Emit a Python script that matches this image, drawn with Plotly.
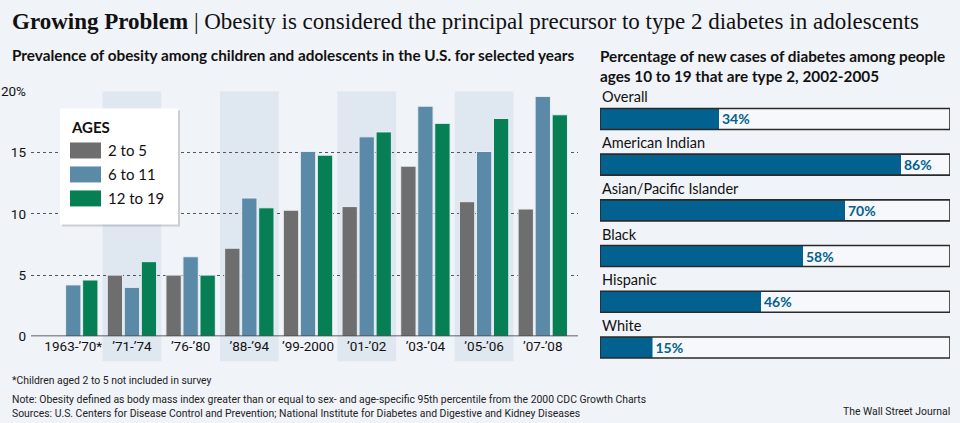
import plotly.graph_objects as go

# ---------------- data ----------------
periods = ["1963-’70*", "’71-’74", "’76-’80", "’88-’94", "’99-2000",
           "’01-’02", "’03-’04", "’05-’06", "’07-’08"]
ages_2_5 = [None, 5.0, 5.0, 7.2, 10.3, 10.6, 13.9, 11.0, 10.4]
ages_6_11 = [4.2, 4.0, 6.5, 11.3, 15.1, 16.3, 18.8, 15.1, 19.6]
ages_12_19 = [4.6, 6.1, 5.0, 10.5, 14.8, 16.7, 17.4, 17.8, 18.1]
series_names = ["2 to 5", "6 to 11", "12 to 19"]
y_ticks = [0, 5, 10, 15, 20]
y_ticktext = ["0", "5", "10", "15", "20%"]

groups = ["Overall", "American Indian", "Asian/Pacific Islander", "Black", "Hispanic", "White"]
type2_pct = [34, 86, 70, 58, 46, 15]
full_scale = [100] * len(groups)

# ---------------- styles ----------------
BG = "#f0f3f8"
BAND = "#dfe7f0"
C_GREY = "#6e6e6e"
C_BLUE = "#5b8aa8"
C_GREEN = "#077f55"
C_DARK = "#02618e"
SERIF = "Liberation Serif, DejaVu Serif, serif"
SANS = "Lato, Noto Sans, sans-serif"
NARROW = "Roboto, sans-serif"

W, H = 960, 423
# screen y (as photographed) -> figure y
S_Y, OFF_Y = 0.963, 7.4
def px(xp):
    return xp / W
def py(yp):
    return 1 - ((yp - OFF_Y) / S_Y) / H

fig = go.Figure()

colors = [C_GREY, C_BLUE, C_GREEN]
for name, vals, col in zip(series_names, [ages_2_5, ages_6_11, ages_12_19], colors):
    fig.add_trace(go.Bar(
        x=periods, y=vals, name=name, marker=dict(color=col, line=dict(color="#e8eef5", width=1)),
        xaxis="x", yaxis="y", showlegend=False, hoverinfo="y"))

# right chart: box background, value fill, box outline
BW = 0.46
fig.add_trace(go.Bar(
    y=groups, x=full_scale, orientation="h", xaxis="x2", yaxis="y2",
    marker=dict(color="#f6f8fb", line=dict(width=0)),
    width=BW, offset=-BW / 2, showlegend=False, hoverinfo="skip"))
fig.add_trace(go.Bar(
    y=groups, x=type2_pct, orientation="h", xaxis="x2", yaxis="y2",
    marker=dict(color=C_DARK, line=dict(width=0)),
    width=BW, offset=-BW / 2, showlegend=False,
    text=[f"<b>{v}%</b>" for v in type2_pct], textposition="outside",
    textfont=dict(family=SANS, size=14, color=C_DARK), cliponaxis=False))
fig.add_trace(go.Bar(
    y=groups, x=full_scale, orientation="h", xaxis="x2", yaxis="y2",
    marker=dict(color="rgba(0,0,0,0)", line=dict(color="#2a2a2a", width=1.6)),
    width=BW, offset=-BW / 2, showlegend=False, hoverinfo="skip", cliponaxis=False))

shapes = []
# alternating bands on left chart
for i in range(1, len(periods), 2):
    shapes.append(dict(type="rect", xref="x", yref="paper", x0=i - 0.5, x1=i + 0.5,
                       y0=py(361), y1=py(91), fillcolor=BAND, line=dict(width=0), layer="below"))
# baseline
shapes.append(dict(type="line", xref="paper", yref="y", x0=px(31), x1=px(578), y0=0, y1=0,
                   line=dict(color="#333", width=1.5)))
# legend box with shadow
shapes.append(dict(type="rect", xref="paper", yref="paper", x0=px(62), x1=px(180),
                   y0=py(226), y1=py(110), fillcolor="rgba(0,0,0,0.15)", line=dict(width=0)))
shapes.append(dict(type="rect", xref="paper", yref="paper", x0=px(60), x1=px(178),
                   y0=py(224), y1=py(108), fillcolor="white", line=dict(width=0)))
legend_rows = [150, 174, 198]
for yy, col in zip(legend_rows, colors):
    shapes.append(dict(type="rect", xref="paper", yref="paper", x0=px(70), x1=px(101),
                       y0=py(yy + 8), y1=py(yy - 8), fillcolor=col, line=dict(width=0)))

annotations = []
annotations.append(dict(xref="paper", yref="paper", x=px(10), y=py(21), xanchor="left", yanchor="middle",
                        text="<b>Growing Problem</b> | Obesity is considered the principal precursor to type 2 diabetes in adolescents",
                        showarrow=False, font=dict(family=SERIF, size=23, color="#111")))
annotations.append(dict(xref="paper", yref="paper", x=px(10), y=py(54), xanchor="left", yanchor="middle",
                        text="<b>Prevalence of obesity among children and adolescents in the U.S. for selected years</b>",
                        showarrow=False, font=dict(family=SANS, size=15.3, color="#111")))
annotations.append(dict(xref="paper", yref="paper", x=px(598), y=py(65), xanchor="left", yanchor="middle",
                        text="<b>Percentage of new cases of diabetes among people<br>ages 10 to 19 that are type 2, 2002-2005</b>",
                        align="left", showarrow=False, font=dict(family=SANS, size=15.3, color="#111")))
annotations.append(dict(xref="paper", yref="paper", x=px(69), y=py(127), xanchor="left", yanchor="middle",
                        text="<b>AGES</b>", showarrow=False, font=dict(family=SANS, size=15, color="#111")))
for yy, name in zip(legend_rows, series_names):
    annotations.append(dict(xref="paper", yref="paper", x=px(106), y=py(yy), xanchor="left", yanchor="middle",
                            text=name, showarrow=False, font=dict(family=SANS, size=15, color="#111")))
for g in groups:
    annotations.append(dict(xref="x2", yref="y2", x=0, y=g, xanchor="left", yanchor="middle", yshift=22,
                            text=g, showarrow=False, font=dict(family=SANS, size=14.5, color="#111")))
foot = dict(family=NARROW, size=10.4, color="#222")
annotations.append(dict(xref="paper", yref="paper", x=px(10), y=py(380), xanchor="left", yanchor="middle",
                        text="*Children aged 2 to 5 not included in survey", showarrow=False, font=foot))
annotations.append(dict(xref="paper", yref="paper", x=px(10), y=py(399), xanchor="left", yanchor="middle",
                        text="Note: Obesity defined as body mass index greater than or equal to sex- and age-specific 95th percentile from the 2000 CDC Growth Charts",
                        showarrow=False, font=foot))
annotations.append(dict(xref="paper", yref="paper", x=px(10), y=py(413), xanchor="left", yanchor="middle",
                        text="Sources: U.S. Centers for Disease Control and Prevention; National Institute for Diabetes and Digestive and Kidney Diseases",
                        showarrow=False, font=foot))
annotations.append(dict(xref="paper", yref="paper", x=px(952), y=py(411), xanchor="right", yanchor="middle",
                        text="The Wall Street Journal", showarrow=False, font=foot))

fig.update_layout(
    width=W, height=H, margin=dict(l=0, r=0, t=0, b=0),
    paper_bgcolor=BG, plot_bgcolor="rgba(0,0,0,0)",
    barmode="group", bargap=0.13, bargroupgap=0.1,
    xaxis=dict(domain=[px(31), px(578)], type="category", range=[-0.72, 8.6],
               showgrid=False, showline=False, ticks="", tickfont=dict(family=NARROW, size=13.5, color="#111"),
               fixedrange=True),
    yaxis=dict(domain=[py(336), py(91)], range=[0, 20], tickvals=y_ticks, ticktext=y_ticktext,
               showgrid=True, gridcolor="#555", griddash="dot", gridwidth=1, zeroline=False,
               ticks="", ticklabelstandoff=4, tickfont=dict(family=NARROW, size=13.5, color="#111"), fixedrange=True),
    xaxis2=dict(domain=[px(600), px(950)], range=[0, 100], anchor="y2", visible=False, fixedrange=True),
    yaxis2=dict(domain=[py(370), py(95.6)], type="category", range=[5.5, -0.5], anchor="x2",
                visible=False, fixedrange=True),
    shapes=shapes, annotations=annotations,
)

fig.write_html(
    "out.html",
    config={"displayModeBar": False, "staticPlot": True},
    post_script=("document.documentElement.style.margin='0';document.documentElement.style.padding='0';"
                 "document.documentElement.style.overflow='hidden';"
                 "document.body.style.margin='0';document.body.style.padding='0';"
                 "document.body.style.overflow='hidden';"),
)
